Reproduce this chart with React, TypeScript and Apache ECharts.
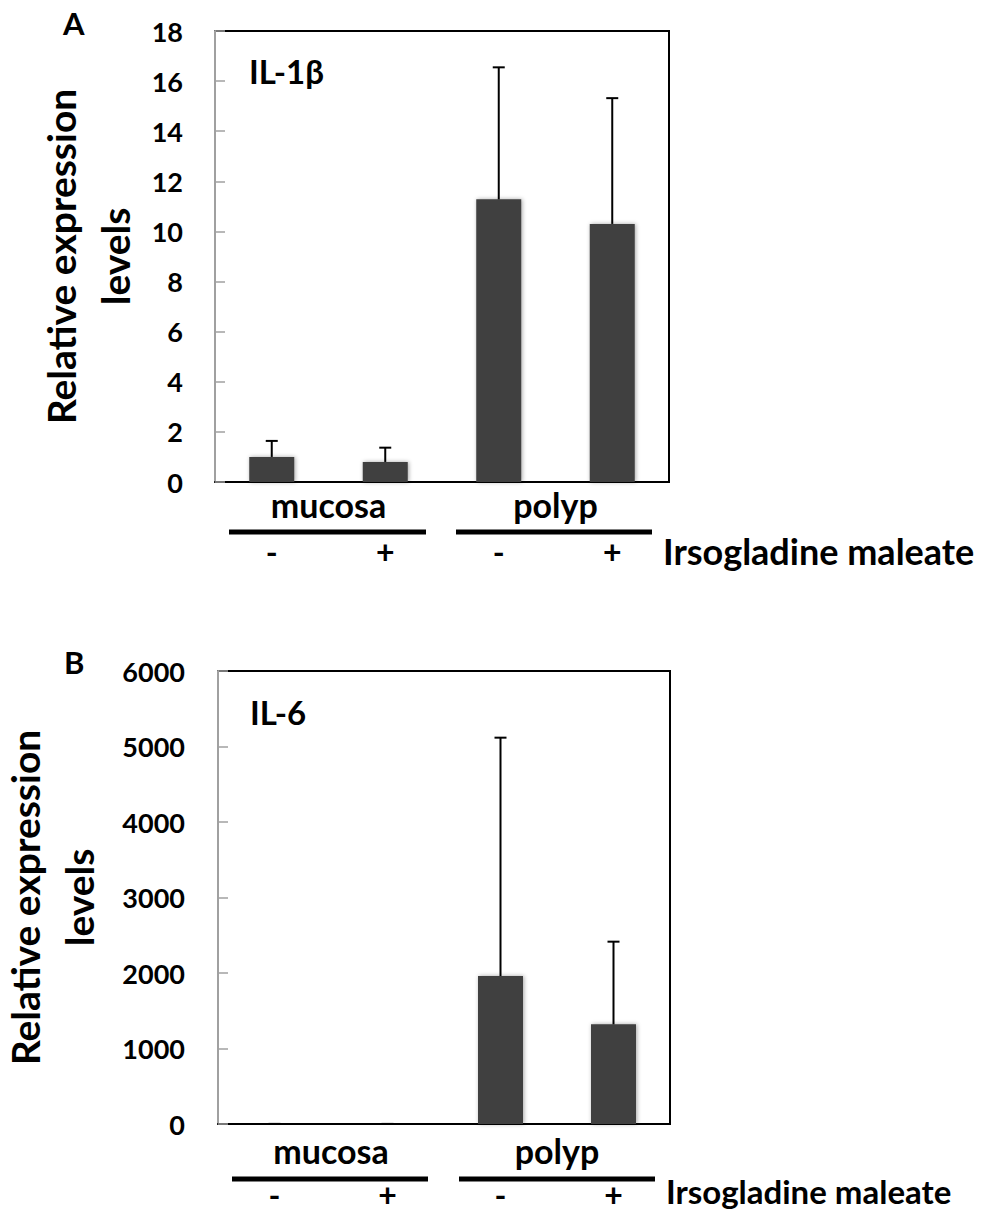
import React, { useEffect, useRef } from "react";
import * as echarts from "echarts";

const categories = ["mucosa -", "mucosa +", "polyp -", "polyp +"];
const treatmentLabels = ["-", "+", "-", "+"];
const groupLabels = ["mucosa", "polyp"];
const il1bMeans = [1.0, 0.8, 11.28, 10.3];
const il1bErrorTops = [1.64, 1.37, 16.55, 15.32];
const il6Means = [1, 0.8, 1960, 1320];
const il6ErrorTops = [1.6, 1.4, 5117, 2415];
const il1bTicks = { min: 0, max: 18, interval: 2 };
const il6Ticks = { min: 0, max: 6000, interval: 1000 };

const FONT = "Lato";

export default function App() {
  const ref = useRef<HTMLDivElement>(null);
  useEffect(() => {
    if (!ref.current) return;
    const chart = echarts.init(ref.current, undefined, { renderer: "svg" });

    const grids = [
      { left: 215, top: 31, width: 454, height: 451, show: true, borderColor: "#000", borderWidth: 2, outerBoundsMode: "none" },
      { left: 218, top: 671, width: 452, height: 453, show: true, borderColor: "#000", borderWidth: 2, outerBoundsMode: "none" },
    ];

    const mkX = (gridIndex: number, treatMargin: number, groupMargin: number) => [
      {
        type: "category",
        gridIndex,
        data: categories,
        position: "bottom",
        axisLine: { show: true, lineStyle: { color: "#000", width: 2 } },
        axisTick: { show: false },
        axisLabel: {
          margin: treatMargin,
          formatter: (_v: string, i: number) => treatmentLabels[i],
          color: "#000",
          fontFamily: FONT,
          fontWeight: "bold",
          fontSize: 32,
          lineHeight: 30,
        },
      },
      {
        type: "category",
        gridIndex,
        data: groupLabels,
        position: "bottom",
        axisLine: { show: false },
        axisTick: { show: false },
        axisLabel: {
          margin: groupMargin,
          color: "#000",
          fontFamily: FONT,
          fontWeight: "bold",
          fontSize: 34,
        },
      },
    ];

    const mkY = (gridIndex: number, t: any, margin: number, nameGap: number) => ({
      type: "value",
      gridIndex,
      min: t.min,
      max: t.max,
      interval: t.interval,
      name: "Relative expression\nlevels",
      nameLocation: "middle",
      nameRotate: 90,
      nameGap,
      nameMoveOverlap: false,
      nameTextStyle: {
        color: "#000",
        fontFamily: FONT,
        fontWeight: "bold",
        fontSize: 39,
        lineHeight: 54,
        align: "center",
      },
      splitLine: { show: false },
      axisLine: { show: true, lineStyle: { color: "#a0a0a0", width: 2 } },
      axisTick: { show: true, inside: true, length: 10, lineStyle: { color: "#a0a0a0", width: 1.5 } },
      axisLabel: {
        margin,
        formatter: (v: number) => String(v),
        color: "#000",
        fontFamily: FONT,
        fontWeight: "bold",
        fontSize: 27,
      },
    });

    const errRender = (params: any, api: any) => {
      const x = api.value(0);
      const top = api.coord([x, api.value(2)]);
      const base = api.coord([x, api.value(1)]);
      const style = { stroke: "#000", lineWidth: 2 };
      return {
        type: "group",
        children: [
          { type: "line", shape: { x1: base[0], y1: base[1], x2: top[0], y2: top[1] }, style },
          { type: "line", shape: { x1: top[0] - 6, y1: top[1], x2: top[0] + 6, y2: top[1] }, style },
        ],
      };
    };

    const barStyle = {
      color: "#3f3f3f",
      shadowBlur: 4,
      shadowColor: "rgba(0,0,0,0.35)",
      shadowOffsetX: 1,
      shadowOffsetY: 0,
    };

    const textStyle = (size: number) => ({
      fill: "#000",
      fontFamily: FONT,
      fontWeight: "bold",
      fontSize: size,
      verticalAlign: "middle",
      align: "left",
    });

    const option: any = {
      animation: false,
      backgroundColor: "#fff",
      grid: grids,
      xAxis: [...mkX(0, 54, 5), ...mkX(1, 55, 9)],
      yAxis: [mkY(0, il1bTicks, 32, 73), mkY(1, il6Ticks, 33, 112)],
      series: [
        {
          type: "bar",
          xAxisIndex: 0,
          yAxisIndex: 0,
          data: il1bMeans,
          barWidth: 45,
          itemStyle: barStyle,
        },
        {
          type: "custom",
          xAxisIndex: 0,
          yAxisIndex: 0,
          data: il1bMeans.map((v, i) => [i, v, il1bErrorTops[i]]),
          renderItem: errRender,
          z: 3,
        },
        {
          type: "bar",
          xAxisIndex: 2,
          yAxisIndex: 1,
          data: il6Means,
          barWidth: 45,
          itemStyle: barStyle,
        },
        {
          type: "custom",
          xAxisIndex: 2,
          yAxisIndex: 1,
          data: il6Means.map((v, i) => [i, v, il6ErrorTops[i]]),
          renderItem: errRender,
          z: 3,
        },
      ],
      graphic: [
        { type: "text", x: 63, y: 23, style: { ...textStyle(31), text: "A" } },
        { type: "text", x: 64, y: 662, style: { ...textStyle(31), text: "B" } },
        { type: "text", x: 249, y: 71, style: { ...textStyle(33), text: "IL-1β" } },
        { type: "text", x: 250, y: 712, style: { ...textStyle(33), text: "IL-6" } },
        { type: "line", shape: { x1: 229, y1: 532, x2: 426, y2: 532 }, style: { stroke: "#000", lineWidth: 5 } },
        { type: "line", shape: { x1: 456, y1: 532, x2: 652, y2: 532 }, style: { stroke: "#000", lineWidth: 5 } },
        { type: "line", shape: { x1: 232, y1: 1179, x2: 428, y2: 1179 }, style: { stroke: "#000", lineWidth: 5 } },
        { type: "line", shape: { x1: 459, y1: 1179, x2: 655, y2: 1179 }, style: { stroke: "#000", lineWidth: 5 } },
        { type: "text", x: 663, y: 551, style: { ...textStyle(36), text: "Irsogladine maleate" } },
        { type: "text", x: 666, y: 1191, style: { ...textStyle(33), lineHeight: 33, text: "Irsogladine maleate" } },
      ],
    };

    chart.setOption(option);
    return () => chart.dispose();
  }, []);

  return (
    <div
      ref={ref}
      style={{ position: "absolute", left: 0, top: 0, width: 1000, height: 1213, background: "#fff" }}
    />
  );
}
